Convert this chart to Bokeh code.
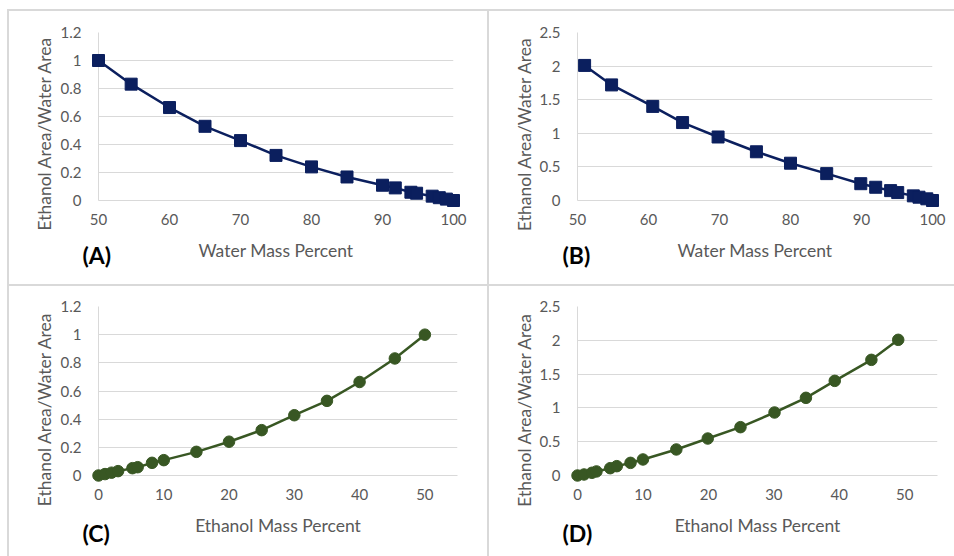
import math
from bokeh.plotting import figure
from bokeh.models import Range1d, FixedTicker, NumeralTickFormatter, Spacer
from bokeh.core.properties import value
from bokeh.layouts import column, row
from bokeh.embed import file_html
from bokeh.resources import INLINE

# ---------------- data ----------------
water_pct_A = [50, 54.6, 60, 65, 70, 75, 80, 85, 90, 91.8, 94, 94.8, 97, 98, 99, 100]
ratio_A = [1.0, 0.831, 0.664, 0.53, 0.428, 0.322, 0.24, 0.168, 0.109, 0.09,
           0.059, 0.052, 0.031, 0.02, 0.01, 0.0]

water_pct_B = [51, 54.8, 60.6, 64.8, 69.8, 75.2, 80, 85.1, 89.9, 92, 94.1, 95.1,
               97.3, 98.1, 99.2, 100]
ratio_B = [2.01, 1.72, 1.40, 1.16, 0.945, 0.725, 0.555, 0.40, 0.25, 0.197, 0.147,
           0.118, 0.069, 0.049, 0.025, 0.0]

ethanol_pct_C = [0, 1, 2, 3, 5.2, 6, 8.2, 10, 15, 20, 25, 30, 35, 40, 45.4, 50]
ratio_C = [0.0, 0.01, 0.02, 0.031, 0.052, 0.059, 0.09, 0.109, 0.168, 0.24, 0.322,
           0.428, 0.53, 0.664, 0.831, 1.0]

ethanol_pct_D = [0, 1, 2.2, 2.9, 5, 6, 8.1, 10, 15.1, 19.9, 24.9, 30.1, 34.9,
                 39.3, 44.9, 49]
ratio_D = [0.0, 0.015, 0.04, 0.06, 0.108, 0.138, 0.187, 0.237, 0.385, 0.547,
           0.715, 0.932, 1.149, 1.40, 1.711, 2.007]

y_ticks_small = [0, 0.2, 0.4, 0.6, 0.8, 1, 1.2]
y_ticks_large = [0, 0.5, 1, 1.5, 2, 2.5]
x_ticks_water = [50, 60, 70, 80, 90, 100]
x_ticks_ethanol = [0, 10, 20, 30, 40, 50]

y_title = "Ethanol Area/Water Area"
x_title_water = "Water Mass Percent"
x_title_ethanol = "Ethanol Mass Percent"
panel_tags = ["(A)", "(B)", "(C)", "(D)"]

# ---------------- styles ----------------
NAVY = "#0b1f5e"
GREEN = "#385723"
GRID = "#d9d9d9"
TEXT = "#595959"
FONT = "Lato"
BORDER_CSS = {"box-shadow": "inset 2px 2px 0 0 #d9d9d9"}


def panel(xs, ys, xr, yr, xt, yt, color, marker, msize, xlabel, tag, tag_pos,
          ytitle_pos, w, h, bl, br, bt, bb):
    p = figure(width=w, height=h, x_range=Range1d(*xr), y_range=Range1d(*yr),
               output_backend="svg", toolbar_location=None,
               min_border_left=bl, min_border_right=br,
               min_border_top=bt, min_border_bottom=bb,
               styles=BORDER_CSS)
    p.border_fill_color = None
    p.background_fill_color = None
    p.outline_line_color = None

    p.xgrid.visible = False
    p.ygrid.grid_line_color = GRID
    p.ygrid.grid_line_width = 1

    for ax in (p.xaxis, p.yaxis):
        ax.axis_line_color = GRID
        ax.axis_line_width = 1
        ax.major_tick_line_color = None
        ax.minor_tick_line_color = None
        ax.major_tick_out = 0
        ax.major_tick_in = 0
        ax.major_label_text_font = FONT
        ax.major_label_text_font_size = "15px"
        ax.major_label_text_color = TEXT
        ax.axis_label_text_font = FONT
        ax.axis_label_text_font_size = "17.5px"
        ax.axis_label_text_font_style = "normal"
        ax.axis_label_text_color = TEXT

    p.xaxis.ticker = FixedTicker(ticks=xt)
    p.yaxis.ticker = FixedTicker(ticks=yt)
    p.xaxis.formatter = NumeralTickFormatter(format="0.[0]")
    p.yaxis.formatter = NumeralTickFormatter(format="0.[0]")
    p.xaxis.major_label_standoff = 13
    p.yaxis.major_label_standoff = 17
    p.xaxis.axis_label = xlabel
    p.xaxis.axis_label_standoff = 12

    p.line(xs, ys, line_color=color, line_width=2.5, level="overlay")
    p.scatter(xs, ys, marker=marker, size=msize, fill_color=color,
              line_color=color, level="overlay")

    # vertical axis title (placed like the original, slightly below centre)
    p.text(x=[ytitle_pos[0]], y=[ytitle_pos[1]], text=[y_title], angle=math.pi / 2,
           text_font=value(FONT), text_font_size="17.5px", text_color=TEXT,
           text_align="center", text_baseline="middle", level="overlay")

    # panel tag
    p.text(x=[tag_pos[0]], y=[tag_pos[1]], text=[tag],
           text_font=value(FONT), text_font_size="23px", text_font_style="bold",
           text_color="black", text_align="left", text_baseline="middle",
           level="overlay")
    return p


pA = panel(water_pct_A, ratio_A, (50, 100), (0, 1.2), x_ticks_water, y_ticks_small,
           NAVY, "square", 12, x_title_water, panel_tags[0], (47.75, -0.39), (42.39, 0.479),
           480, 275, 91, 34, 23, 84)
pB = panel(water_pct_B, ratio_B, (50, 100), (0, 2.5), x_ticks_water, y_ticks_large,
           NAVY, "square", 12, x_title_water, panel_tags[1], (47.89, -0.81), (42.49, 0.991),
           467, 275, 90, 22, 22, 84)
pC = panel(ethanol_pct_C, ratio_C, (0, 55), (0, 1.2), x_ticks_ethanol, y_ticks_small,
           GREEN, "circle", 11.5, x_title_ethanol, panel_tags[2], (-2.45, -0.41), (-8.32, 0.4715),
           480, 272, 91, 30, 22, 80)
pD = panel(ethanol_pct_D, ratio_D, (0, 55), (0, 2.5), x_ticks_ethanol, y_ticks_large,
           GREEN, "circle", 11.5, x_title_ethanol, panel_tags[3], (-2.29, -0.85), (-8.10, 0.976),
           467, 272, 90, 17, 22, 81)

grid = column(row(pA, pB), row(pC, pD))
layout = column(Spacer(height=9), row(Spacer(width=7), grid))

open("out.html", "w").write(file_html(layout, INLINE))
